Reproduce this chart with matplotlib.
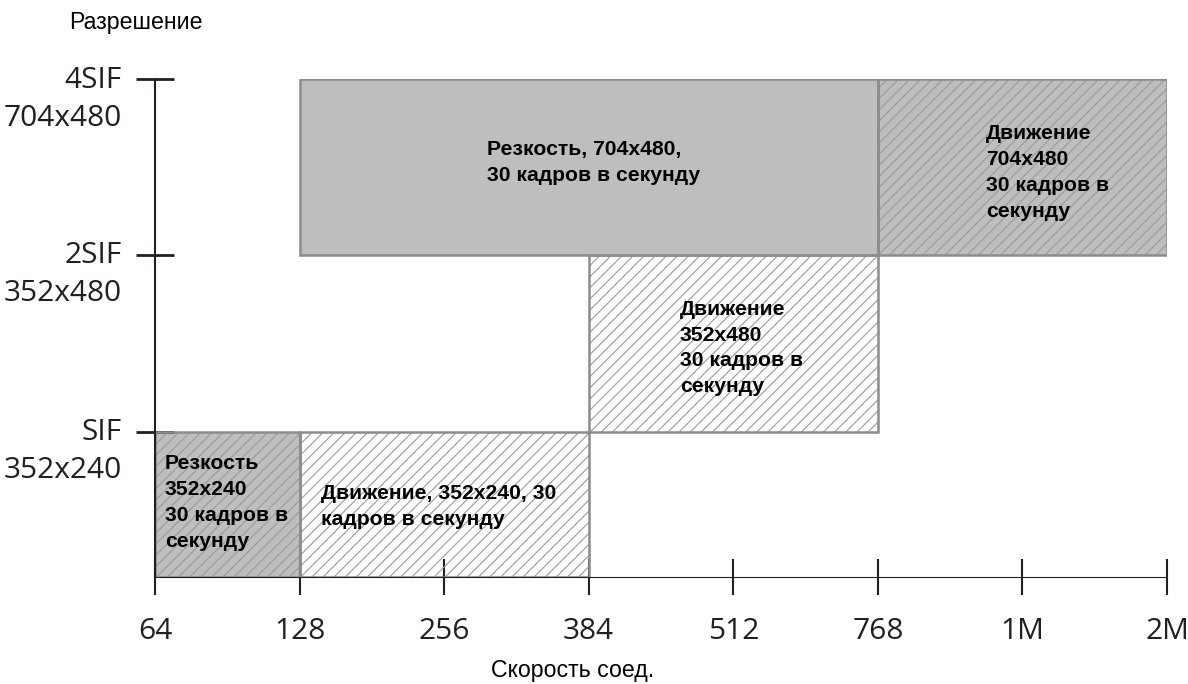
import matplotlib.pyplot as plt
from matplotlib.patches import Rectangle

# ─── Data ───────────────────────────────────────────────────────────
speeds = ["64", "128", "256", "384", "512", "768", "1M", "2M"]
res_names = ["SIF", "2SIF", "4SIF"]
res_sizes = ["352x240", "352x480", "704x480"]
res_levels = [1.0, 2.22, 3.43]

box_labels = [
    "Резкость\n352x240\n30 кадров в\nсекунду",
    "Движение, 352x240, 30\nкадров в секунду",
    "Движение\n352x480\n30 кадров в\nсекунду",
    "Резкость, 704x480,\n30 кадров в секунду",
    "Движение\n704x480\n30 кадров в\nсекунду",
]
box_speed_from = ["64", "128", "384", "128", "768"]
box_speed_to = ["128", "384", "768", "768", "2M"]
box_res_from = [None, None, "SIF", "2SIF", "2SIF"]
box_res_to = ["SIF", "SIF", "2SIF", "4SIF", "4SIF"]
box_filled = [True, False, False, True, True]
box_hatched = [True, True, True, False, True]

# text offset inside each box (px from top-left corner)
text_offsets = [(10, 22), (21, 52), (91, 45), (187, 61), (108, 45)]

GRAY = "#bcbec0"
EDGE = "#8c8c8c"
HATCH = "#9a9a9a"
INK = "#231f20"

plt.rcParams["hatch.linewidth"] = 0.8

fig = plt.figure(figsize=(11.88, 6.84), dpi=100)
ax = fig.add_axes([155 / 1188, 107 / 684, 1012 / 1188, 498 / 684])
ax.set_xlim(0, len(speeds) - 1)
ax.set_ylim(0, res_levels[-1])


def level(name):
    return 0.0 if name is None else res_levels[res_names.index(name)]


px = 72 / 100  # pixels -> points

for i, label in enumerate(box_labels):
    x0 = speeds.index(box_speed_from[i])
    x1 = speeds.index(box_speed_to[i])
    y0 = level(box_res_from[i])
    y1 = level(box_res_to[i])
    w, h = x1 - x0, y1 - y0
    ax.add_patch(Rectangle((x0, y0), w, h, facecolor=GRAY if box_filled[i] else "white",
                           edgecolor="none", zorder=1))
    if box_hatched[i]:
        ax.add_patch(Rectangle((x0, y0), w, h, facecolor="none", edgecolor=HATCH,
                               hatch="///", linewidth=0, zorder=2))
    ax.add_patch(Rectangle((x0, y0), w, h, facecolor="none", edgecolor=EDGE,
                           linewidth=1.8, zorder=3))
    dx, dy = text_offsets[i]
    ax.annotate(label, xy=(x0, y1), xytext=(dx * px, -dy * px), textcoords="offset points",
                ha="left", va="top", fontsize=15.2, fontweight="bold",
                family="Liberation Sans", color="black", linespacing=1.46, zorder=4)

# ─── Axes ───────────────────────────────────────────────────────────
for s in ["top", "right"]:
    ax.spines[s].set_visible(False)
ax.spines["left"].set_linewidth(1.5)
ax.spines["left"].set_color(INK)
ax.spines["bottom"].set_linewidth(0.8)
ax.spines["bottom"].set_color(INK)
ax.spines["left"].set_zorder(5)
ax.spines["bottom"].set_zorder(5)

ax.set_xticks(range(len(speeds)))
ax.set_xticklabels(speeds, family="Open Sans", fontsize=21.5, color=INK)
ax.tick_params(axis="x", direction="inout", length=26, width=1.5, color=INK, pad=16)

ax.set_yticks(res_levels)
ax.set_yticklabels([""] * len(res_levels))
ax.tick_params(axis="y", direction="inout", length=27, width=2, color=INK)

for name, size, y in zip(res_names, res_sizes, res_levels):
    ax.annotate(name, xy=(0, y), xycoords=ax.get_yaxis_transform(),
                xytext=(-33 * px, -1 * px), textcoords="offset points",
                ha="right", va="center", family="Open Sans", fontsize=21.5, color=INK)
    ax.annotate(size, xy=(0, y), xycoords=ax.get_yaxis_transform(),
                xytext=(-33 * px, -39 * px), textcoords="offset points",
                ha="right", va="center", family="Open Sans", fontsize=21.5, color=INK)

fig.text(136 / 1188, 1 - 23 / 684, "Разрешение", ha="center", va="center",
         fontsize=16.7, family="Liberation Sans", color="black")
fig.text(573 / 1188, 1 - 670 / 684, "Скорость соед.", ha="center", va="center",
         fontsize=16.7, family="Liberation Sans", color="black")

fig.savefig("out.png", dpi=100)
